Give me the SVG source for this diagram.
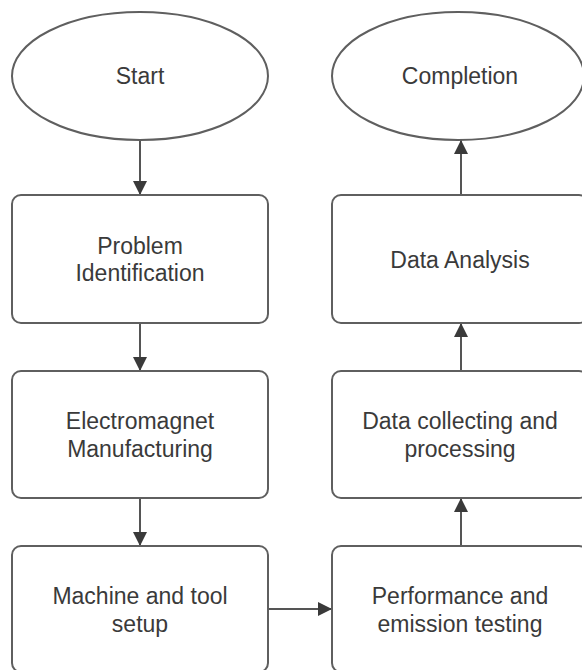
<svg xmlns="http://www.w3.org/2000/svg" width="582" height="670" viewBox="0 0 582 670">
<defs>
<style>
.n{fill:#fff;stroke:#5f5f5f;stroke-width:2}
.t{font-family:"Liberation Sans",Arial,sans-serif;font-size:23px;fill:#3a3a3a;text-anchor:middle}
.c{fill:none;stroke:#555;stroke-width:2}
</style>
<marker id="ah" viewBox="0 0 14 14" markerWidth="14" markerHeight="14" refX="14" refY="7" orient="auto" markerUnits="userSpaceOnUse">
<path d="M0,0 L14,7 L0,14 Z" fill="#3a3a3a"/>
</marker>
</defs>
<rect width="582" height="670" fill="#fff"/>
<g id="connectors">
<line class="c" x1="140" y1="140" x2="140" y2="195" marker-end="url(#ah)"/>
<line class="c" x1="140" y1="323" x2="140" y2="371" marker-end="url(#ah)"/>
<line class="c" x1="140" y1="498" x2="140" y2="546" marker-end="url(#ah)"/>
<line class="c" x1="268" y1="609" x2="332" y2="609" marker-end="url(#ah)"/>
<line class="c" x1="461" y1="546" x2="461" y2="498" marker-end="url(#ah)"/>
<line class="c" x1="461" y1="371" x2="461" y2="323" marker-end="url(#ah)"/>
<line class="c" x1="461" y1="195" x2="461" y2="140" marker-end="url(#ah)"/>
</g>
<g id="start">
<ellipse class="n" cx="140" cy="76" rx="128" ry="64"/>
<text class="t" x="140" y="84">Start</text>
</g>
<g id="completion">
<ellipse class="n" cx="458" cy="76" rx="126" ry="64"/>
<text class="t" x="460" y="84">Completion</text>
</g>
<g id="problem">
<rect class="n" x="12" y="195" width="256" height="128" rx="9"/>
<text class="t" x="140" y="254">Problem</text>
<text class="t" x="140" y="281">Identification</text>
</g>
<g id="electromagnet">
<rect class="n" x="12" y="371" width="256" height="127" rx="9"/>
<text class="t" x="140" y="429">Electromagnet</text>
<text class="t" x="140" y="457">Manufacturing</text>
</g>
<g id="machine">
<rect class="n" x="12" y="546" width="256" height="126" rx="9"/>
<text class="t" x="140" y="604">Machine and tool</text>
<text class="t" x="140" y="632">setup</text>
</g>
<g id="analysis">
<rect class="n" x="332" y="195" width="256" height="128" rx="9"/>
<text class="t" x="460" y="268">Data Analysis</text>
</g>
<g id="collecting">
<rect class="n" x="332" y="371" width="256" height="127" rx="9"/>
<text class="t" x="460" y="429">Data collecting and</text>
<text class="t" x="460" y="457">processing</text>
</g>
<g id="testing">
<rect class="n" x="332" y="546" width="256" height="126" rx="9"/>
<text class="t" x="460" y="604">Performance and</text>
<text class="t" x="460" y="632">emission testing</text>
</g>
</svg>
